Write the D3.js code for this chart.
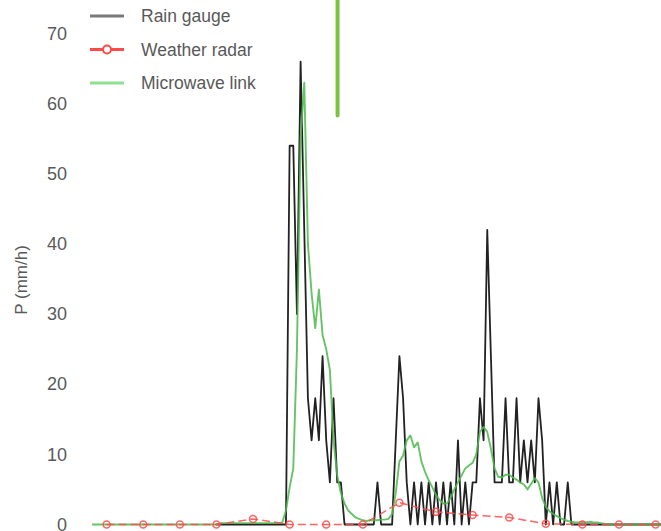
<!DOCTYPE html>
<html>
<head>
<meta charset="utf-8">
<script src="https://cdn.jsdelivr.net/npm/d3@7"></script>
<style>
  html, body { margin: 0; padding: 0; background: #fff; }
  svg { display: block; font-family: "Liberation Sans", Arial, sans-serif; }
</style>
</head>
<body>
<svg id="chart" width="661" height="531"></svg>
<script>
// Rainfall intensity (mm/h) on a one-minute time grid.
const seriesNames = ["Rain gauge", "Weather radar", "Microwave link"];
const yTicks = [0, 10, 20, 30, 40, 50, 60, 70];

// Rain gauge: 1-min values starting at minute 34
const gaugeStart = 34;
const gaugeValues = [
  0,0,0,0,0,0,0,0,0,0,0,0,0,0,0,0,0,0,0,          // 34-52
  0,54,54,30,66,42,18,12,18,12,24,12,6,18,6,6,   // 53-68
  0,0,0,0,0,0,0,0,0,6,0,0,0,0,                   // 69-82
  12,24,18,6,0,6,0,6,0,6,0,6,0,6,0,6,0,12,0,6,0, // 83-103
  6,6,18,12,42,24,6,6,6,18,6,6,18,6,12,6,12,6,   // 104-121
  18,12,0,6,0,6,0,0,6,0,                         // 122-131
  0,0,0,0,0,0,0,0,0,0,0,0,0,0,0,0,0,0,0,0,0,0,0,0,0 // 132-156
];

// Weather radar: one value every 10 minutes from minute 4
const radarStart = 4;
const radarValues = [0, 0, 0, 0, 0.8, 0, 0, 0, 3.1, 1.8, 1.35, 1.0, 0.1, 0, 0, 0];

// Microwave link: 1-min values from minute 0
const linkValues = [
  0,0,0,0,0,0,0,0,0,0,0,0,0,0,0,0,0,0,0,0,                  // 0-19
  0,0,0,0,0,0,0,0,0,0,0,0,0,0,0,                            // 20-34
  0.2,0.2,0.2,0.2,0.2,0.2,0.2,0.2,0.2,0.2,0.2,0.2,0.2,0.2,0.2,0.2,0.2, // 35-51
  0.3,2,5.3,8,25,55,63,40,33,28,33.5,27,25,22,12,7,4.5,     // 52-68
  3,2,1.5,1,0.8,0.6,0.5,0.6,0.6,0.6,0.7,0.7,0.8,1.5,4.5,    // 69-83
  9,9.8,12,12.7,11,11.7,9,7.5,6.3,5.3,4.2,3.5,3,3,3.8,5,    // 84-99
  6,7,8,8.4,8.8,10,13.2,13.9,13.2,10.8,8,6.8,6.7,7.1,7.1,   // 100-114
  6.7,6.4,6,5.7,5,5.8,6.6,6,3.8,2.5,1.9,1.5,1.2,0.9,0.7,    // 115-129
  0.5,0.4,0.3,0.3,0.4,0.3,0.4,0.3,0.3,0.2,0.1,              // 130-140
  0,0,0,0,0,0,0,0,0,0,0,0,0,0,0,0                           // 141-156
];

// Event marker: minute and lower end of the bar (mm/h)
const markerTime = 67.1;
const markerRange = [58.3, 80];

const gaugeData = gaugeValues.map((v, i) => ({ t: gaugeStart + i, v }));
const radarData = radarValues.map((v, i) => ({ t: radarStart + 10 * i, v }));
const linkData = linkValues.map((v, i) => ({ t: i, v }));

const svg = d3.select("#chart");
const x = d3.scaleLinear().domain([0, 154]).range([92, 655.6]);
const y = d3.scaleLinear().domain([0, 70]).range([524.5, 33.5]);

// y axis: labels only
const yAxis = svg.append("g")
  .attr("transform", "translate(70,0)")
  .call(d3.axisLeft(y).tickValues(yTicks).tickSize(0).tickPadding(3).tickFormat(d3.format("d")));
yAxis.select(".domain").remove();
yAxis.selectAll("text")
  .attr("fill", "#595959")
  .style("font-size", "18px")
  .style("font-family", "'Liberation Sans', Arial, sans-serif");

svg.append("text")
  .attr("transform", "translate(27,280) rotate(-90)")
  .attr("text-anchor", "middle")
  .attr("fill", "#595959")
  .style("font-size", "17px")
  .text("P (mm/h)");

const line = d3.line().x(d => x(d.t)).y(d => y(d.v));

// rain gauge
svg.append("path")
  .datum(gaugeData)
  .attr("fill", "none")
  .attr("stroke", "#222")
  .attr("stroke-width", 1.8)
  .attr("stroke-linejoin", "round")
  .attr("d", line);

// microwave link
svg.append("path")
  .datum(linkData)
  .attr("fill", "none")
  .attr("stroke", "#4cb84c")
  .attr("stroke-opacity", 0.85)
  .attr("stroke-width", 1.9)
  .attr("stroke-linejoin", "round")
  .attr("d", line);

// weather radar
svg.append("path")
  .datum(radarData)
  .attr("fill", "none")
  .attr("stroke", "#ff4a4a")
  .attr("stroke-opacity", 0.85)
  .attr("stroke-width", 1.5)
  .attr("stroke-dasharray", "8,4")
  .attr("d", line);
svg.append("g")
  .selectAll("circle")
  .data(radarData)
  .join("circle")
  .attr("cx", d => x(d.t))
  .attr("cy", d => y(d.v))
  .attr("r", 3.5)
  .attr("fill", "none")
  .attr("stroke", "#ff4a4a")
  .attr("stroke-opacity", 0.85)
  .attr("stroke-width", 1.5);

// event marker bar
svg.append("line")
  .attr("x1", x(markerTime)).attr("x2", x(markerTime))
  .attr("y1", y(markerRange[1])).attr("y2", y(markerRange[0]))
  .attr("stroke", "#7cc242")
  .attr("stroke-width", 4)
  .attr("stroke-linecap", "round");

// legend
const legendColors = ["#7a7a7a", "#ff4a4a", "#8fe08f"];
const legend = svg.append("g");
seriesNames.forEach((name, i) => {
  const g = legend.append("g").attr("transform", `translate(90,${16 + i * 33.5})`);
  g.append("line").attr("x1", 0).attr("x2", 34).attr("y1", 0).attr("y2", 0)
    .attr("stroke", legendColors[i]).attr("stroke-width", 3);
  if (i === 1) {
    g.append("circle").attr("cx", 17).attr("cy", 0).attr("r", 4)
      .attr("fill", "#fff").attr("stroke", legendColors[i]).attr("stroke-width", 2);
  }
  g.append("text").attr("x", 51).attr("y", 0).attr("dy", "0.35em")
    .attr("fill", "#595959").style("font-size", "17.5px").text(name);
});
</script>
</body>
</html>
